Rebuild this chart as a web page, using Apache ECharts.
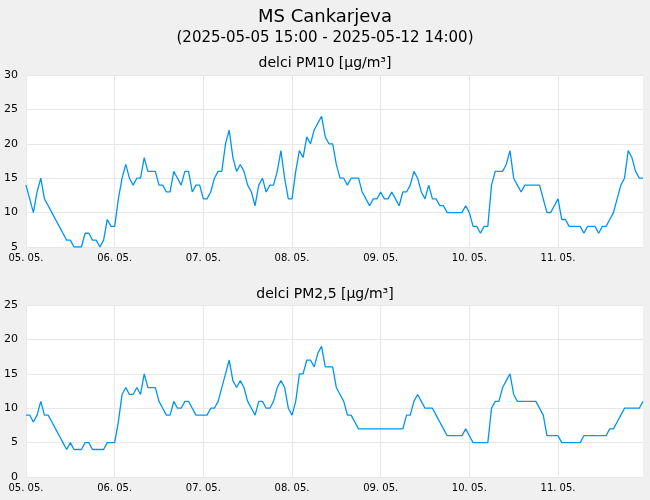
<!DOCTYPE html>
<html>
<head>
<meta charset="utf-8">
<script src="https://cdn.jsdelivr.net/npm/echarts@6/dist/echarts.min.js"></script>
</head>
<body style="margin:0;background:#f0f0f0">
<div id="main" style="width:650px;height:500px;"></div>
<script type="text/javascript">
    // hourly values, 05.05. 15:00 -> 12.05. 14:00
    var dayLabels = ['05. 05.', '06. 05.', '07. 05.', '08. 05.', '09. 05.', '10. 05.', '11. 05.'];
    var pm10 = [14,12,10,13,15,12,11,10,9,8,7,6,6,5,5,5,7,7,6,6,5,6,9,8,8,12,15,17,15,14,
        15,15,18,16,16,16,14,14,13,13,16,15,14,16,16,13,14,14,12,12,13,15,16,16,20,22,18,16,17,16,
        14,13,11,14,15,13,14,14,16,19,15,12,12,16,19,18,21,20,22,23,24,21,20,20,17,15,15,14,15,15,
        15,13,12,11,12,12,13,12,12,13,12,11,13,13,14,16,15,13,12,14,12,12,11,11,10,10,10,10,10,11,
        10,8,8,7,8,8,14,16,16,16,17,19,15,14,13,14,14,14,14,14,12,10,10,11,12,9,9,8,8,8,
        8,7,8,8,8,7,8,8,9,10,12,14,15,19,18,16,15,15];
    var pm25 = [9,9,8,9,11,9,9,8,7,6,5,4,5,4,4,4,5,5,4,4,4,4,5,5,5,8,12,13,12,12,
        13,12,15,13,13,13,11,10,9,9,11,10,10,11,11,10,9,9,9,9,10,10,11,13,15,17,14,13,14,13,
        11,10,9,11,11,10,10,11,13,14,13,10,9,11,15,15,17,17,16,18,19,16,16,16,13,12,11,9,9,8,
        7,7,7,7,7,7,7,7,7,7,7,7,7,9,9,11,12,11,10,10,10,9,8,7,6,6,6,6,6,7,
        6,5,5,5,5,5,10,11,11,13,14,15,12,11,11,11,11,11,11,10,9,6,6,6,6,5,5,5,5,5,
        5,6,6,6,6,6,6,6,7,7,8,9,10,10,10,10,10,11];

    var hours = [];
    for (var i = 0; i < pm10.length; i++) hours.push(i);

    var myChart = echarts.init(document.getElementById('main'));
    var font = 'DejaVu Sans';

    function xAxis(idx) {
        return {
            type: 'category', gridIndex: idx, data: hours, boundaryGap: false,
            axisLine: {show: false}, axisTick: {show: false},
            axisLabel: {
                interval: 23, color: '#000', fontSize: 10, fontFamily: font, margin: 6,
                formatter: function (v) { return dayLabels[Math.floor(v / 24)] || ''; }
            },
            splitLine: {show: true, interval: 23, lineStyle: {color: '#e8e8e8'}}
        };
    }
    function yAxis(idx, min, max) {
        return {
            type: 'value', gridIndex: idx, min: min, max: max, interval: 5,
            axisLine: {show: false}, axisTick: {show: false},
            axisLabel: {color: '#000', fontSize: 11, fontFamily: font, margin: 8},
            splitLine: {lineStyle: {color: '#e8e8e8'}}
        };
    }
    var line = {type: 'line', showSymbol: false, animation: false,
        lineStyle: {color: '#0096f0', width: 1.3}, itemStyle: {color: '#0096f0'}};

    var option = {
        backgroundColor: '#f0f0f0',
        title: [
            {text: 'MS Cankarjeva', left: 'center', top: 3,
                textStyle: {fontSize: 18, fontWeight: 'normal', fontFamily: font, color: '#000'}},
            {text: '(2025-05-05 15:00 - 2025-05-12 14:00)', left: 'center', top: 26,
                textStyle: {fontSize: 15, fontWeight: 'normal', fontFamily: font, color: '#000'}},
            {text: 'delci PM10 [µg/m³]', left: 'center', top: 51,
                textStyle: {fontSize: 14, fontWeight: 'normal', fontFamily: font, color: '#000'}},
            {text: 'delci PM2,5 [µg/m³]', left: 'center', top: 282,
                textStyle: {fontSize: 14, fontWeight: 'normal', fontFamily: font, color: '#000'}}
        ],
        grid: [
            {left: 26, right: 7, top: 75, height: 172, backgroundColor: '#fff', show: true, borderWidth: 0},
            {left: 26, right: 7, top: 305, height: 172, backgroundColor: '#fff', show: true, borderWidth: 0}
        ],
        xAxis: [xAxis(0), xAxis(1)],
        yAxis: [yAxis(0, 5, 30), yAxis(1, 0, 25)],
        series: [
            Object.assign({}, line, {name: 'PM10', xAxisIndex: 0, yAxisIndex: 0, data: pm10}),
            Object.assign({}, line, {name: 'PM2,5', xAxisIndex: 1, yAxisIndex: 1, data: pm25})
        ]
    };
    myChart.setOption(option);
</script>
</body>
</html>
